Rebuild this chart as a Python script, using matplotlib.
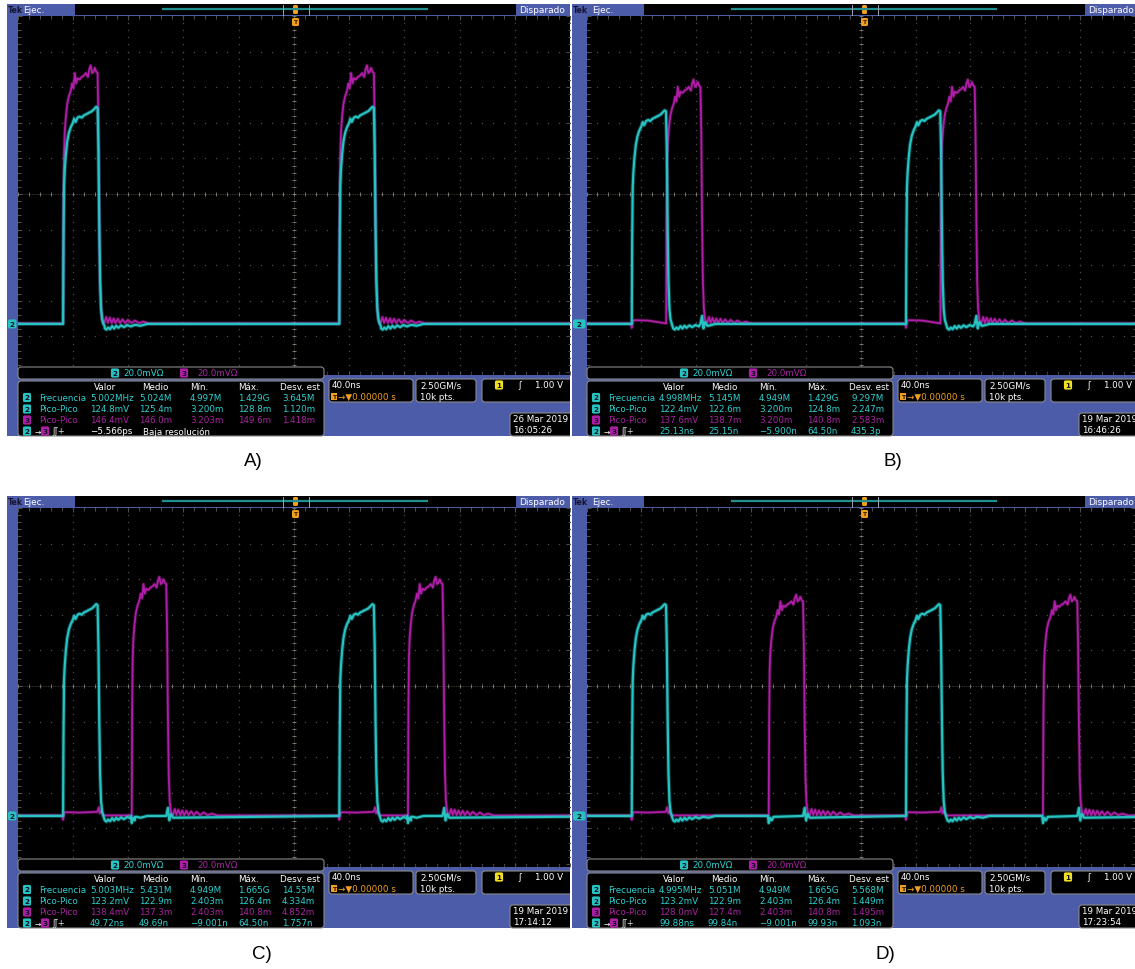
import numpy as np
import matplotlib
matplotlib.use('Agg')
import matplotlib.pyplot as plt
from matplotlib.patches import Rectangle, FancyBboxPatch

# ---------------- data ----------------
PANEL_LABELS = ['A)', 'B)', 'C)', 'D)']
TIME_DIV_NS = 40.0
VOLT_DIV_MV = 20.0
CH2_POSITION_MV = -73.0           # baseline of both channels on screen
CH2_RISE_NS = [-167.0, 33.0]      # rising edges of channel 2 (cyan)
CH3_DELAY_NS = [0.0, 25.1, 49.7, 99.9]   # channel 3 delay in A, B, C, D
CH2_TOP_MV = [122.0, 120.0, 119.0, 119.0]
CH3_TOP_MV = [145.0, 137.0, 134.0, 124.0]
CH3_OFFSET_MV = 0.3

# pulse body (ns after rising edge, fraction of top level)
CH2_BODY_T = [0.0, 0.3, 0.7, 1.2, 2.0, 3.0, 4.2, 5.5, 7.0, 8.0, 9.0, 10.5, 12.0, 13.5,
              15.0, 16.5, 18.0, 19.5, 21.0, 22.5, 24.0, 25.0, 25.6, 26.2, 26.8, 27.5, 28.3, 29.2]
CH2_BODY_F = [0.0, 0.38, 0.64, 0.71, 0.78, 0.84, 0.88, 0.905, 0.925, 0.945, 0.93, 0.95, 0.955, 0.95,
              0.96, 0.965, 0.97, 0.975, 0.98, 0.99, 1.0, 0.995, 0.8, 0.45, 0.2, 0.07, 0.02, 0.0]
CH3_BODY_T = [0.0, 0.3, 0.7, 1.2, 2.0, 3.0, 4.2, 5.5, 6.5, 7.5, 8.5, 9.5, 10.5, 12.0, 13.5,
              15.0, 16.5, 18.0, 19.0, 20.0, 21.0, 22.0, 23.0, 24.0, 25.0, 25.6, 26.2, 26.8,
              27.5, 28.3, 29.2]
CH3_BODY_F = [0.0, 0.42, 0.66, 0.74, 0.8, 0.85, 0.88, 0.9, 0.93, 0.91, 0.97, 0.93, 0.95, 0.945,
              0.955, 0.96, 0.97, 0.955, 0.985, 1.0, 0.97, 0.975, 0.99, 0.975, 0.97, 0.78, 0.42,
              0.17, 0.06, 0.02, 0.0]
# ringing after the falling edge (ns after rising edge, mV)
CH2_TAIL_T = [30.2, 31.4, 32.6, 34.0, 35.5, 37.0, 38.5, 40.0, 42.0, 44.0, 46.5, 49.0, 52.0, 56.0, 61.0]
CH2_TAIL_MV = [-2.5, -3.2, -2.0, -3.0, -1.2, -2.6, -1.0, -2.2, -0.8, -1.8, -0.6, -1.4, -0.5, -1.0, 0.0]
CH3_TAIL_T = [30.0, 31.2, 32.4, 33.8, 35.2, 36.6, 38.0, 39.6, 41.2, 43.0, 45.0, 47.0, 49.5,
              52.0, 55.0, 58.0, 62.0]
CH3_TAIL_MV = [0.5, 3.6, 0.3, 3.2, 0.2, 2.8, 0.2, 2.6, 0.2, 2.3, 0.2, 2.0, 0.2, 1.6, 0.2, 1.0, 0.0]
# crosstalk seen on ch2 at ch3 edges (ns after ch3 rise, mV)
CH2_XT_T = [-0.6, 0.0, 1.0, 2.2, 3.5, 25.0, 26.2, 27.2, 28.4, 30.0]
CH2_XT_MV = [0.0, -4.0, -1.0, -2.5, -0.5, 0.0, 4.5, -2.5, 1.0, -1.0]
# crosstalk seen on ch3 at ch2 edges (ns after ch2 rise, mV)
CH3_XT_T = [-0.6, 0.0, 0.9, 2.0, 12.0, 24.8, 25.8, 26.6, 27.6, 29.0]
CH3_XT_MV = [0.0, -2.5, 1.5, 1.8, 1.6, 2.0, 4.5, 1.2, 2.5, 0.0]

MEAS_HEADERS = ['Valor', 'Medio', 'Mín.', 'Máx.', 'Desv. est']
MEAS_ROWS = ['Frecuencia', 'Pico-Pico', 'Pico-Pico']
MEAS_A = [['5.002MHz', '5.024M', '4.997M', '1.429G', '3.645M'],
          ['124.8mV', '125.4m', '3.200m', '128.8m', '1.120m'],
          ['146.4mV', '146.0m', '3.203m', '149.6m', '1.418m'],
          ['−5.566ps', 'Baja resolución']]
MEAS_B = [['4.998MHz', '5.145M', '4.949M', '1.429G', '9.297M'],
          ['122.4mV', '122.6m', '3.200m', '124.8m', '2.247m'],
          ['137.6mV', '138.7m', '3.200m', '140.8m', '2.583m'],
          ['25.13ns', '25.15n', '−5.900n', '64.50n', '435.3p']]
MEAS_C = [['5.003MHz', '5.431M', '4.949M', '1.665G', '14.55M'],
          ['123.2mV', '122.9m', '2.403m', '126.4m', '4.334m'],
          ['138.4mV', '137.3m', '2.403m', '140.8m', '4.852m'],
          ['49.72ns', '49.69n', '−9.001n', '64.50n', '1.757n']]
MEAS_D = [['4.995MHz', '5.051M', '4.949M', '1.665G', '5.568M'],
          ['123.2mV', '122.9m', '2.403m', '126.4m', '1.449m'],
          ['128.0mV', '127.4m', '2.403m', '140.8m', '1.495m'],
          ['99.88ns', '99.84n', '−9.001n', '99.93n', '1.093n']]
MEAS = [MEAS_A, MEAS_B, MEAS_C, MEAS_D]
DATES = ['26 Mar 2019', '19 Mar 2019', '19 Mar 2019', '19 Mar 2019']
CLOCKS = ['16:05:26', '16:46:26', '17:14:12', '17:23:54']
SCALE_TXT = '20.0mVΩ'
TIMEBASE_TXT = '40.0ns'
POS_TXT = '→▼0.00000 s'
RATE_TXT = ['2.50GM/s', '10k pts.']
TRIG_TXT = '1.00 V'

# ---------------- style / layout ----------------
W, H = 1135, 970
BLUE = '#4d5ca9'
CYAN = '#27c2c2'
CYAN_TXT = '#2fd0d0'
MAG = '#b01ea8'
MAG_TXT = '#a8229f'
ORANGE = '#f0a020'
PANEL_OX = [0, 569, 0, 569]
PANEL_OY = [0, 0, 492, 492]
FRAME_LEFT = [7, 3, 7, 3]
PANEL_RIGHT = [570, 1135, 570, 1135]
LABEL_XY = [(253, 462), (893, 462), (262, 955), (885, 955)]
PX_PER_NS = 55.6 / TIME_DIV_NS
PX_PER_MV = 35.6 / VOLT_DIV_MV

fig = plt.figure(figsize=(W / 100, H / 100), dpi=100)
fig.patch.set_facecolor('white')
bg = fig.add_axes([0, 0, 1, 1], zorder=0)
bg.set_xlim(0, W); bg.set_ylim(H, 0); bg.axis('off')
ov = fig.add_axes([0, 0, 1, 1], zorder=2)
ov.set_xlim(0, W); ov.set_ylim(H, 0); ov.axis('off'); ov.patch.set_alpha(0)


def build_trace(rises, body_t, body_f, top, tail_t, tail_mv, base, xt_events):
    pts = [(-260.0, base), (260.0, base)]
    windows = []
    for t0 in rises:
        for bt, bf in zip(body_t, body_f):
            pts.append((t0 + bt, base + bf * top))
        for tt, tv in zip(tail_t, tail_mv):
            pts.append((t0 + tt, base + tv))
        windows.append((t0 - 0.7, t0 + body_t[-1] + 0.5))
    for tx, vx in xt_events:
        if not any(a <= tx <= b for a, b in windows):
            pts.append((tx, base + vx))
    pts.sort(key=lambda p: p[0])
    return [p[0] for p in pts], [p[1] for p in pts]


def panel(i):
    ox, oy = PANEL_OX[i], PANEL_OY[i]
    fl = ox + FRAME_LEFT[i]
    rx = PANEL_RIGHT[i]
    clip = Rectangle((ox, oy), rx - ox, 445, transform=ov.transData)
    items = []

    def box(x0, y0, x1, y1, fc='black', ec='#8a8a8a', lw=0.8, r=3):
        p = FancyBboxPatch((ox + x0, oy + y0), x1 - x0, y1 - y0,
                           boxstyle=f'round,pad=0,rounding_size={r}', fc=fc, ec=ec, lw=lw, zorder=2)
        ov.add_patch(p); items.append(p)

    def txt(x, y, s, color='white', size=6.3, ha='left', weight='normal', bbox=None, z=3):
        t = ov.text(ox + x, oy + y, s, color=color, fontsize=size, ha=ha, va='center',
                    weight=weight, bbox=bbox, family='DejaVu Sans', zorder=z)
        items.append(t)
        return t

    def badge(x, y, s, fc, size=5.2):
        txt(x, y, s, color='#101020', size=size, ha='center', weight='bold',
            bbox=dict(boxstyle='round,pad=0.22', fc=fc, ec='none'))

    # frame
    bg.add_patch(Rectangle((fl, oy + 5), rx - fl, 432, fc=BLUE, ec='none'))
    bg.add_patch(Rectangle((ox + 74.5, oy + 5), 441.5, 11.3, fc='black', ec='none'))
    bg.plot([ox + 163, ox + 427], [oy + 10, oy + 10], color='#1f8f8f', lw=1.6)
    bg.plot([ox + 283, ox + 283], [oy + 6, oy + 16], color='#9aa3b0', lw=0.7)
    bg.plot([ox + 309, ox + 309], [oy + 6, oy + 16], color='#9aa3b0', lw=0.7)
    bg.text(fl + 0.5, oy + 10.5, 'Tek', fontsize=5.6, weight='bold', color='#141430',
            va='center', ha='left', family='DejaVu Sans')
    bg.text(ox + 23, oy + 10.5, 'Ejec.', fontsize=6.4, color='white', va='center', ha='left',
            family='DejaVu Sans')
    bg.text(ox + 519, oy + 10.5, 'Disparado', fontsize=6.5, color='white', va='center',
            ha='left', family='DejaVu Sans')
    bg.add_patch(FancyBboxPatch((ox + 293, oy + 6), 5, 9, boxstyle='round,pad=0,rounding_size=1.5',
                                fc=ORANGE, ec='none'))

    # screen
    xl, yt, yb = ox + 17.5, oy + 16.5, oy + 376
    sc = fig.add_axes([xl / W, 1 - yb / H, (rx - xl) / W, (yb - yt) / H], zorder=1)
    sc.set_facecolor('black')
    x0 = -5 * TIME_DIV_NS
    sc.set_xlim(x0, x0 + (rx - xl) / PX_PER_NS)
    ytop = 5 * VOLT_DIV_MV + 0.5 / PX_PER_MV
    sc.set_ylim(ytop - (yb - yt) / PX_PER_MV, ytop)
    for s in sc.spines.values():
        s.set_visible(False)
    sc.set_xticks(np.arange(-200, 201, 40)); sc.set_xticks(np.arange(-200, 201, 8), minor=True)
    sc.set_yticks(np.arange(-100, 101, 20)); sc.set_yticks(np.arange(-100, 101, 4), minor=True)
    sc.tick_params(which='both', direction='in', top=True, right=True, labelbottom=False,
                   labelleft=False, color='#5c5c5c', width=0.6)
    sc.tick_params(which='major', length=3)
    sc.tick_params(which='minor', length=1.8)
    # dotted graticule
    majx = np.arange(-200, 201, 40); majy = np.arange(-100, 101, 20)
    minx = np.arange(-200, 201, 8); miny = np.arange(-100, 101, 4)
    gx, gy = np.meshgrid(majx, miny)
    sc.plot(gx.ravel(), gy.ravel(), ls='none', marker='s', ms=0.9, mew=0, color='#4e4e4e')
    gx, gy = np.meshgrid(minx, majy)
    sc.plot(gx.ravel(), gy.ravel(), ls='none', marker='s', ms=0.9, mew=0, color='#4e4e4e')
    sc.axhline(0, color='#6e6a62', lw=0.5, ls=(0, (1, 1.5)))
    sc.axvline(0, color='#6e6a62', lw=0.5, ls=(0, (1, 1.5)))
    sc.plot(minx, np.zeros_like(minx), ls='none', marker='|', ms=3.5, mew=0.6, color='#8a8478')
    sc.plot(np.zeros_like(miny), miny, ls='none', marker='_', ms=3.5, mew=0.6, color='#8a8478')

    # traces
    mag_rises = [t + CH3_DELAY_NS[i] for t in CH2_RISE_NS]
    xt2 = [(tm + dt, v) for tm in mag_rises for dt, v in zip(CH2_XT_T, CH2_XT_MV)]
    xt3 = [(tc + dt, v) for tc in CH2_RISE_NS for dt, v in zip(CH3_XT_T, CH3_XT_MV)]
    mt, mv = build_trace(mag_rises, CH3_BODY_T, CH3_BODY_F, CH3_TOP_MV[i], CH3_TAIL_T,
                         CH3_TAIL_MV, CH2_POSITION_MV + CH3_OFFSET_MV, xt3)
    ct, cv = build_trace(CH2_RISE_NS, CH2_BODY_T, CH2_BODY_F, CH2_TOP_MV[i], CH2_TAIL_T,
                         CH2_TAIL_MV, CH2_POSITION_MV, xt2)
    sc.plot(mt, mv, color=MAG, lw=2.6, alpha=0.3, zorder=3, solid_joinstyle='round')
    sc.plot(mt, mv, color=MAG, lw=1.3, zorder=3, solid_joinstyle='round')
    sc.plot(ct, cv, color=CYAN, lw=3.0, alpha=0.3, zorder=4, solid_joinstyle='round')
    sc.plot(ct, cv, color=CYAN, lw=1.6, zorder=4, solid_joinstyle='round')

    # trigger marker and channel marker
    box(292, 19, 299, 27, fc=ORANGE, ec='none', lw=0, r=1.5)
    txt(295.5, 23, 'T', color='#402000', size=4.5, ha='center', weight='bold')
    by = (ytop - CH2_POSITION_MV) * PX_PER_MV + 16.5
    box(FRAME_LEFT[i] + 1, by - 4.5, 16.5, by + 4.5, fc=CYAN, ec='none', lw=0, r=2)
    txt((FRAME_LEFT[i] + 17.5) / 2, by, '2', color='#101020', size=5.2, ha='center', weight='bold')

    # scale readout
    box(18, 368, 324, 380)
    badge(115, 374, '2', CYAN)
    txt(123, 374, SCALE_TXT, color=CYAN_TXT)
    badge(184, 374, '3', MAG)
    txt(197, 374, SCALE_TXT, color=MAG_TXT)

    # measurement table
    box(18, 382, 324, 437)
    hx = [94, 142, 190, 238, 280]
    vx = [90, 139, 190, 238, 282]
    for x, s in zip(hx, MEAS_HEADERS):
        txt(x, 388, s)
    rows_y = [398.5, 410, 421, 432]
    meas = MEAS[i]
    for r in range(3):
        col = MAG_TXT if r == 2 else CYAN_TXT
        badge(27, rows_y[r], '3' if r == 2 else '2', MAG if r == 2 else CYAN)
        txt(39, rows_y[r], MEAS_ROWS[r], color=col)
        for x, s in zip(vx, meas[r]):
            txt(x, rows_y[r], s, color=col)
    badge(27, rows_y[3], '2', CYAN)
    txt(35, rows_y[3], '→', color='white', size=5.5)
    badge(45, rows_y[3], '3', MAG)
    txt(52, rows_y[3], 'ʃʃ+', color='#e0e0e0', size=6)
    if len(meas[3]) == 2:
        txt(vx[0], rows_y[3], meas[3][0], color='white')
        txt(143, rows_y[3], meas[3][1], color='white')
    else:
        for x, s in zip(vx, meas[3]):
            txt(x, rows_y[3], s, color=CYAN_TXT)

    # horizontal / acquisition / trigger readouts
    box(329, 380, 413, 403)
    txt(332, 386, TIMEBASE_TXT)
    txt(332, 397.5, 'T', color='#301800', size=4.5, weight='bold',
        bbox=dict(boxstyle='square,pad=0.15', fc=ORANGE, ec='none'))
    txt(338, 397.5, POS_TXT, color=ORANGE)
    box(416, 380, 476, 403)
    txt(420, 386, RATE_TXT[0])
    txt(420, 397.5, RATE_TXT[1])
    box(482, 380, 585, 403)
    badge(499, 386, '1', '#f0e020')
    txt(518, 386, 'ʃ', color='white')
    txt(535, 386, TRIG_TXT)
    box(510, 414, 585, 437)
    txt(513, 420, DATES[i])
    txt(513, 431, CLOCKS[i])

    for a in items:
        a.set_clip_path(clip)

    bg.text(LABEL_XY[i][0], LABEL_XY[i][1], PANEL_LABELS[i], fontsize=13.5, color='black',
            ha='center', va='center', family='Liberation Sans')


for k in range(4):
    panel(k)

fig.savefig('out.png', dpi=100, facecolor='white')
